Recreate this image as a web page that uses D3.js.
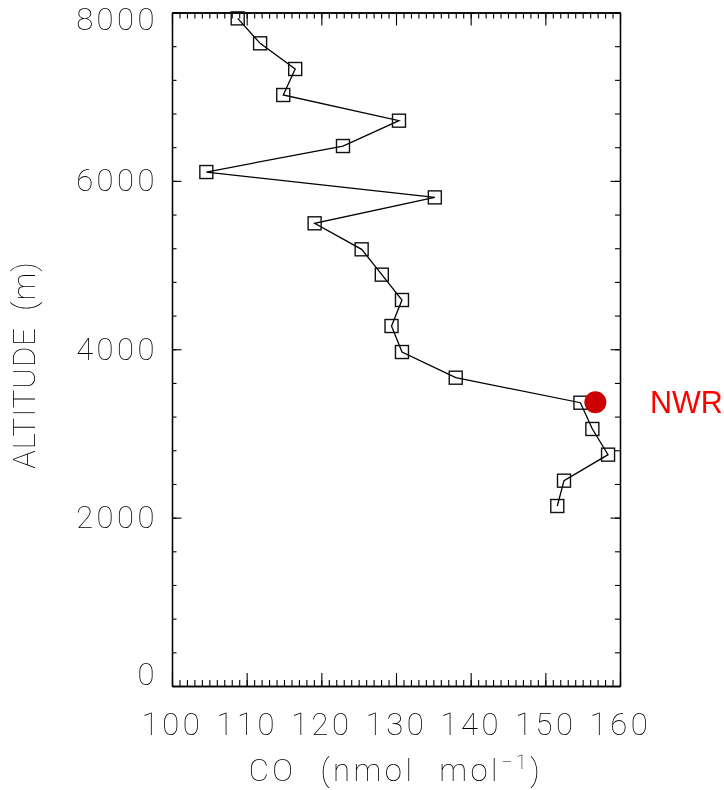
<!DOCTYPE html>
<html>
<head>
<meta charset="utf-8">
<script src="https://cdn.jsdelivr.net/npm/d3@7"></script>
<style>
  html, body { margin: 0; padding: 0; background: #fff; }
  svg { display: block; will-change: transform; }
  .lbl { font-family: Roboto, "DejaVu Sans", sans-serif; font-weight: 100; fill: #000; }
</style>
</head>
<body>
<svg id="chart" width="724" height="790"></svg>
<script>
// CO mixing ratio profile (nmol/mol) against altitude (m)
const altitude = [7930, 7634, 7329, 7020, 6715, 6414, 6105, 5804, 5496, 5187,
                  4886, 4585, 4276, 3967, 3662, 3365, 3053, 2748, 2439, 2138];
const coValues = [108.8, 111.8, 116.5, 114.9, 130.4, 122.9, 104.6, 135.2, 119.1, 125.4,
                  128.1, 130.8, 129.4, 130.8, 138.0, 154.7, 156.3, 158.4, 152.5, 151.6];

// Surface station reading
const stationName = ["NWR"];
const stationCO = [156.7];
const stationAlt = [3370];

const xTicks = [100, 110, 120, 130, 140, 150, 160];
const yTicks = [0, 2000, 4000, 6000, 8000];

const svg = d3.select("#chart");
const plotLeft = 172, plotRight = 620, plotTop = 12.5, plotBottom = 686;

const x = d3.scaleLinear().domain([100, 160]).range([plotLeft, plotRight]);
const y = d3.scaleLinear().domain([0, 8000]).range([plotBottom, plotTop]);

const xMinor = d3.range(100, 161, 1);
const yMinor = d3.range(0, 8001, 400);

function style(g) {
  g.selectAll("path.domain").attr("stroke", "#000").attr("stroke-width", 1.3);
  g.selectAll(".tick line").attr("stroke", "#000").attr("stroke-width", 1.1);
}

// bottom axis: minor + major ticks pointing inward, with labels
svg.append("g").attr("transform", `translate(0,${plotBottom})`)
  .call(d3.axisBottom(x).tickValues(xMinor).tickSize(-6).tickSizeOuter(0).tickFormat(""))
  .call(style);
const gx = svg.append("g").attr("transform", `translate(0,${plotBottom})`)
  .call(d3.axisBottom(x).tickValues(xTicks).tickSize(-13).tickSizeOuter(0).tickPadding(27).tickFormat(d3.format("d")))
  .call(style);
gx.selectAll("text").attr("class", "lbl").attr("font-size", 31).attr("letter-spacing", 3.5).attr("fill", null);

// top axis
svg.append("g").attr("transform", `translate(0,${plotTop})`)
  .call(d3.axisTop(x).tickValues(xMinor).tickSize(-6).tickSizeOuter(0).tickFormat(""))
  .call(style);
svg.append("g").attr("transform", `translate(0,${plotTop})`)
  .call(d3.axisTop(x).tickValues(xTicks).tickSize(-13).tickSizeOuter(0).tickFormat(""))
  .call(style);

// left axis
svg.append("g").attr("transform", `translate(${plotLeft},0)`)
  .call(d3.axisLeft(y).tickValues(yMinor).tickSize(-4.5).tickSizeOuter(0).tickFormat(""))
  .call(style);
const gy = svg.append("g").attr("transform", `translate(${plotLeft},0)`)
  .call(d3.axisLeft(y).tickValues(yTicks).tickSize(-9.5).tickSizeOuter(0).tickPadding(14).tickFormat(d3.format("d")))
  .call(style);
gy.selectAll("text").attr("class", "lbl").attr("font-size", 31).attr("letter-spacing", 3.5).attr("fill", null)
  .each(function (d) {
    // keep end labels within the frame height
    const ty = y(d);
    const c = Math.min(Math.max(ty, plotTop + 7), plotBottom - 11);
    d3.select(this).attr("y", c - ty);
  });

// right axis
svg.append("g").attr("transform", `translate(${plotRight},0)`)
  .call(d3.axisRight(y).tickValues(yMinor).tickSize(-5).tickSizeOuter(0).tickFormat(""))
  .call(style);
svg.append("g").attr("transform", `translate(${plotRight},0)`)
  .call(d3.axisRight(y).tickValues(yTicks).tickSize(-9.5).tickSizeOuter(0).tickFormat(""))
  .call(style);

// axis titles
const xt = svg.append("text").attr("class", "lbl")
  .attr("x", (plotLeft + plotRight) / 2).attr("y", 781)
  .attr("text-anchor", "middle").attr("font-size", 31)
  .attr("letter-spacing", 3.5).attr("word-spacing", 13);
xt.append("tspan").text("CO (nmol mol");
xt.append("tspan").attr("dy", -12).attr("font-size", 20).text("−1");
xt.append("tspan").attr("dy", 12).text(")");

svg.append("text").attr("class", "lbl")
  .attr("transform", `translate(35,365) rotate(-90)`)
  .attr("text-anchor", "middle").attr("font-size", 31)
  .attr("letter-spacing", 1).attr("word-spacing", 8)
  .text("ALTITUDE (m)");

// profile line and square markers
const pts = coValues.map((v, i) => [v, altitude[i]]);
svg.append("path")
  .attr("d", d3.line().x(d => x(d[0])).y(d => y(d[1]))(pts))
  .attr("fill", "none").attr("stroke", "#000").attr("stroke-width", 1.3);

const sq = 13;
svg.append("g").selectAll("rect").data(pts).join("rect")
  .attr("x", d => x(d[0]) - sq / 2).attr("y", d => y(d[1]) - sq / 2)
  .attr("width", sq).attr("height", sq)
  .attr("fill", "none").attr("stroke", "#111").attr("stroke-width", 1.4);

// station marker and label
svg.append("circle")
  .attr("cx", x(stationCO[0])).attr("cy", y(stationAlt[0])).attr("r", 11)
  .attr("fill", "#cc0000");
svg.append("text")
  .attr("x", 650).attr("y", y(stationAlt[0]) + 11)
  .attr("font-family", "Liberation Sans, Arial, sans-serif").attr("font-size", 30.5)
  .attr("fill", "#ff0000").text(stationName[0]);
</script>
</body>
</html>
